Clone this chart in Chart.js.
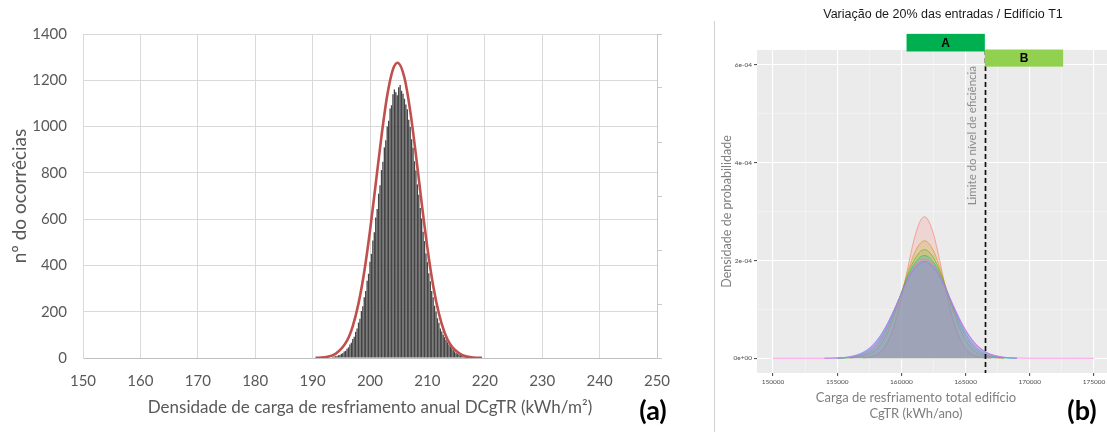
<!DOCTYPE html>
<html>
<head>
<meta charset="utf-8">
<script src="https://cdn.jsdelivr.net/npm/chart.js@4.4.0/dist/chart.umd.min.js"></script>
<style>
  html, body { margin: 0; padding: 0; background: #fff; width: 1107px; height: 432px; overflow: hidden; }
  #histo { position: absolute; left: 0; top: 0; }
  #dens { position: absolute; left: 714px; top: 0; }
</style>
</head>
<body>
<canvas id="histo" width="700" height="432"></canvas>
<canvas id="dens" width="396" height="432"></canvas>
<script>
// ---- panel (a): histogram of DCgTR ----
const histBins = [
  193.5, 193.75, 194, 194.25, 194.5, 194.75, 195, 195.25, 195.5, 195.75,
  196, 196.25, 196.5, 196.75, 197, 197.25, 197.5, 197.75, 198, 198.25,
  198.5, 198.75, 199, 199.25, 199.5, 199.75, 200, 200.25, 200.5, 200.75,
  201, 201.25, 201.5, 201.75, 202, 202.25, 202.5, 202.75, 203, 203.25,
  203.5, 203.75, 204, 204.25, 204.5, 204.75, 205, 205.25, 205.5, 205.75,
  206, 206.25, 206.5, 206.75, 207, 207.25, 207.5, 207.75, 208, 208.25,
  208.5, 208.75, 209, 209.25, 209.5, 209.75, 210, 210.25, 210.5, 210.75,
  211, 211.25, 211.5, 211.75, 212, 212.25, 212.5, 212.75, 213, 213.25,
  213.5, 213.75, 214, 214.25, 214.5, 214.75, 215, 215.25, 215.5, 215.75,
  216, 216.25, 216.5, 216.75, 217
];
const histCounts = [
  4, 6, 8, 9, 12, 13, 18, 21, 28, 31,
  40, 46, 58, 66, 82, 92, 113, 127, 153, 170,
  203, 224, 262, 289, 334, 364, 416, 450, 508, 543,
  607, 644, 710, 746, 812, 848, 910, 941, 1000, 1025,
  1078, 1092, 1140, 1160, 1148, 1135, 1170, 1180, 1155, 1142,
  1120, 1095, 1075, 1030, 998, 945, 908, 850, 810, 750,
  705, 648, 603, 546, 505, 452, 414, 366, 332, 290,
  262, 226, 201, 172, 152, 128, 114, 100, 90, 78,
  68, 58, 50, 42, 35, 28, 22, 18, 15, 12,
  9, 7, 5, 4, 3
];
// fitted normal curve (red)
const curveX = [190.5, 192, 194, 196, 197, 198, 199, 200, 201, 202, 203, 204, 204.8, 206, 207, 208, 209, 210, 211, 212, 213, 214, 216, 218, 219.5];
const curveY = [0.7, 3, 18, 75, 138, 236, 373, 550, 753, 958, 1134, 1247, 1276, 1211, 1069, 878, 670, 476, 313, 192, 109, 58, 13, 2, 0.5];

const histXTicks = [150, 160, 170, 180, 190, 200, 210, 220, 230, 240, 250];
const histYTicks = [0, 200, 400, 600, 800, 1000, 1200, 1400];
const histRightTicks = [0, 1, 2, 3, 4, 5, 6];

// ---- panel (b): density curves, 20% input variation ----
const densX = [150000, 154000, 155000, 156000, 157000, 157500, 158000, 158500, 159000, 159500,
  160000, 160500, 161000, 161500, 161800, 162000, 162500, 163000, 163500, 164000,
  164500, 165000, 165500, 166000, 166500, 167000, 168000, 169000, 170000, 175000];
// values in units of 1e-04
const densRed    = [null, null, null, null, 0.007, 0.023, 0.065, 0.166, 0.369, 0.721, 1.234, 1.854, 2.443, 2.823, 2.89, 2.86, 2.54, 1.98, 1.353, 0.811, 0.426, 0.197, 0.080, 0.028, 0.009, 0.002, null, null, null, null];
const densOrange = [null, null, null, 0.005, 0.037, 0.084, 0.175, 0.333, 0.578, 0.919, 1.333, 1.766, 2.137, 2.361, 2.40, 2.383, 2.196, 1.848, 1.421, 0.997, 0.639, 0.374, 0.200, 0.098, 0.044, 0.018, 0.002, null, null, null];
const densOlive  = [null, null, 0.002, 0.012, 0.063, 0.128, 0.239, 0.413, 0.662, 0.982, 1.346, 1.710, 2.011, 2.189, 2.22, 2.206, 2.058, 1.778, 1.421, 1.052, 0.721, 0.457, 0.268, 0.146, 0.073, 0.034, 0.006, null, null, null];
const densGreen  = [null, null, 0.003, 0.020, 0.086, 0.162, 0.284, 0.465, 0.709, 1.009, 1.340, 1.662, 1.922, 2.074, 2.10, 2.088, 1.962, 1.720, 1.408, 1.075, 0.765, 0.509, 0.316, 0.182, 0.098, 0.050, 0.010, 0.002, null, null];
const densBlue   = [null, 0.001, 0.007, 0.031, 0.116, 0.203, 0.334, 0.518, 0.754, 1.033, 1.328, 1.608, 1.830, 1.958, 1.98, 1.970, 1.864, 1.658, 1.387, 1.091, 0.807, 0.561, 0.367, 0.226, 0.130, 0.071, 0.017, 0.003, null, null];
const densPurple = [null, 0.002, 0.008, 0.034, 0.122, 0.209, 0.340, 0.522, 0.755, 1.030, 1.318, 1.593, 1.810, 1.937, 1.96, 1.951, 1.848, 1.648, 1.384, 1.095, 0.815, 0.572, 0.378, 0.236, 0.138, 0.077, 0.020, 0.004, null, null];
const densPink   = [0, 0.001, 0.005, 0.026, 0.102, 0.185, 0.315, 0.500, 0.740, 1.025, 1.330, 1.625, 1.865, 2.005, 2.03, 2.02, 1.905, 1.69, 1.41, 1.11, 0.83, 0.585, 0.39, 0.245, 0.145, 0.082, 0.023, 0.005, 0.001, 0];
const densSeries = [densRed, densOrange, densOlive, densGreen, densBlue, densPurple, densPink];
const densColors = ['#F8766D', '#C49A00', '#53B400', '#00C094', '#00B6EB', '#A58AFF', '#FB61D7'];

const densXTicks = [150000, 152500, 155000, 157500, 160000, 162500, 165000, 167500, 170000, 172500, 175000];
const densXText  = ['150000', '', '155000', '', '160000', '', '165000', '', '170000', '', '175000'];
const densYTicks = [0, 1, 2, 3, 4, 5, 6];
const densYText  = ['0e+00', '', '2e-04', '', '4e-04', '', '6e-04'];

// efficiency limit and class boxes (x in kWh/ano, y in 1e-04)
const limitX = 166500;
const limitLabel = 'Limite do nível de eficiência';
const limitLabelPos = [165550, 4.55];
const classNames = ['A', 'B'];
const classX0 = [160400, 166500];
const classX1 = [166500, 172600];
const classY0 = [6.27, 5.96];
const classY1 = [6.63, 6.31];
const classColors = ['#00B050', '#92D050'];

Chart.defaults.font.family = 'Lato, sans-serif';
Chart.defaults.animation = false;

function hexToRgba(hex, alpha) {
    const h = hex.replace('#', '');
    const r = parseInt(h.substring(0, 2), 16);
    const g = parseInt(h.substring(2, 4), 16);
    const b = parseInt(h.substring(4, 6), 16);
    return `rgba(${r}, ${g}, ${b}, ${alpha})`;
}

// ---------- chart (a) ----------
const histExtras = {
    id: 'histExtras',
    afterDraw(chart) {
        const ctx = chart.ctx;
        ctx.save();
        ctx.fillStyle = '#000';
        ctx.font = 'bold 27px Lato, sans-serif';
        ctx.textAlign = 'center';
        ctx.textBaseline = 'middle';
        ctx.fillText('(a)', 653, 411);
        ctx.restore();
    }
};

new Chart(document.getElementById('histo').getContext('2d'), {
    type: 'bar',
    data: {
        datasets: [
            {
                type: 'line',
                data: curveX.map((x, i) => ({ x: x, y: curveY[i] })),
                borderColor: '#C0504D',
                borderWidth: 2.6,
                pointRadius: 0,
                fill: false,
                cubicInterpolationMode: 'monotone',
                order: 0
            },
            {
                type: 'bar',
                data: histBins.map((x, i) => ({ x: x, y: histCounts[i] })),
                backgroundColor: '#444444',
                borderWidth: 0,
                barPercentage: 0.92,
                categoryPercentage: 1,
                order: 1
            }
        ]
    },
    options: {
        responsive: false,
        layout: { padding: { top: 34, left: 0, right: 0, bottom: 0 } },
        plugins: { legend: { display: false }, tooltip: { enabled: false } },
        scales: {
            x: {
                type: 'linear',
                min: 150,
                max: 250,
                offset: false,
                afterBuildTicks: s => { s.ticks = histXTicks.map(v => ({ value: v })); },
                afterFit: s => { s.height = 74; },
                ticks: { color: '#595959', font: { size: 15 }, padding: 14, callback: v => String(v) },
                grid: { color: '#d9d9d9', drawTicks: false, offset: false },
                border: { color: '#bfbfbf', width: 1 },
                title: {
                    display: true,
                    text: 'Densidade de carga de resfriamento anual DCgTR (kWh/m²)',
                    color: '#595959',
                    font: { size: 17 },
                    padding: { top: 0, bottom: 14 }
                }
            },
            y: {
                min: 0,
                max: 1400,
                afterBuildTicks: s => { s.ticks = histYTicks.map(v => ({ value: v })); },
                afterFit: s => { s.width = 83; },
                ticks: { color: '#595959', font: { size: 15 }, padding: 16, callback: v => String(v) },
                grid: { color: '#d9d9d9', drawTicks: false },
                border: { color: '#d9d9d9' },
                title: {
                    display: true,
                    text: 'nº do ocorrêcias',
                    color: '#595959',
                    font: { size: 19 },
                    padding: { top: 8, bottom: 0 }
                }
            },
            y2: {
                position: 'right',
                min: 0,
                max: 6,
                afterBuildTicks: s => { s.ticks = histRightTicks.map(v => ({ value: v })); },
                afterFit: s => { s.width = 43; },
                ticks: { display: false },
                grid: { drawOnChartArea: false, drawTicks: true, tickLength: 5, tickColor: '#c8c8c8' },
                border: { color: '#c8c8c8' }
            }
        }
    },
    plugins: [histExtras]
});

// ---------- chart (b) ----------
const densExtras = {
    id: 'densExtras',
    beforeDraw(chart) {
        const { ctx, chartArea: a } = chart;
        ctx.save();
        ctx.fillStyle = '#EBEBEB';
        ctx.fillRect(a.left, a.top, a.right - a.left, a.bottom - a.top);
        ctx.restore();
    },
    afterDatasetsDraw(chart) {
        const { ctx, chartArea: a, scales: { x, y } } = chart;
        ctx.save();
        // efficiency limit line
        const lx = Math.round(x.getPixelForValue(limitX)) + 0.5;
        ctx.strokeStyle = '#111';
        ctx.lineWidth = 1.7;
        ctx.setLineDash([5, 3]);
        ctx.beginPath();
        ctx.moveTo(lx, a.top);
        ctx.lineTo(lx, a.bottom);
        ctx.stroke();
        ctx.setLineDash([]);
        // its label
        ctx.translate(x.getPixelForValue(limitLabelPos[0]), y.getPixelForValue(limitLabelPos[1]));
        ctx.rotate(-Math.PI / 2);
        ctx.fillStyle = '#8c8c8c';
        ctx.font = '11.5px Lato, sans-serif';
        ctx.textAlign = 'center';
        ctx.textBaseline = 'middle';
        ctx.fillText(limitLabel, 0, 0);
        ctx.restore();
    },
    afterDraw(chart) {
        const { ctx, scales: { x, y } } = chart;
        ctx.save();
        // class boxes A / B
        classNames.forEach((name, i) => {
            const x0 = x.getPixelForValue(classX0[i]);
            const x1 = x.getPixelForValue(classX1[i]);
            const y0 = y.getPixelForValue(classY1[i]);
            const y1 = y.getPixelForValue(classY0[i]);
            ctx.fillStyle = classColors[i];
            ctx.fillRect(x0, y0, x1 - x0, y1 - y0);
            ctx.fillStyle = '#000';
            ctx.font = 'bold 12px "Liberation Sans", Arial, sans-serif';
            ctx.textAlign = 'center';
            ctx.textBaseline = 'middle';
            ctx.fillText(name, (x0 + x1) / 2, (y0 + y1) / 2 + 1);
        });
        // title
        ctx.fillStyle = '#1a1a1a';
        ctx.font = '12.5px "Liberation Sans", Arial, sans-serif';
        ctx.textAlign = 'center';
        ctx.textBaseline = 'middle';
        ctx.fillText('Variação de 20% das entradas / Edifício T1', 229, 15);
        // x axis title (two lines)
        ctx.fillStyle = '#7f7f7f';
        ctx.font = '13px Lato, sans-serif';
        ctx.fillText('Carga de resfriamento total edifício', 202, 398);
        ctx.fillText('CgTR (kWh/ano)', 202, 414);
        // panel tag
        ctx.fillStyle = '#000';
        ctx.font = 'bold 27px Lato, sans-serif';
        ctx.fillText('(b)', 368, 411);
        // separator on the left
        ctx.strokeStyle = '#d0d0d0';
        ctx.lineWidth = 1;
        ctx.beginPath();
        ctx.moveTo(0.5, 21);
        ctx.lineTo(0.5, 432);
        ctx.stroke();
        ctx.restore();
    }
};

new Chart(document.getElementById('dens').getContext('2d'), {
    type: 'line',
    data: {
        // first series drawn first (bottom), last one on top
        datasets: densSeries.map((vals, k) => ({
            data: densX.map((x, i) => ({ x: x, y: vals[i] })),
            borderColor: hexToRgba(densColors[k], 0.6),
            backgroundColor: hexToRgba(densColors[k], 0.2),
            borderWidth: 1,
            pointRadius: 0,
            fill: 'origin',
            cubicInterpolationMode: 'monotone',
            order: densSeries.length - k
        }))
    },
    options: {
        responsive: false,
        layout: { padding: { top: 50, left: 0, right: 0, bottom: 0 } },
        plugins: { legend: { display: false }, tooltip: { enabled: false } },
        scales: {
            x: {
                type: 'linear',
                min: 148750,
                max: 176250,
                afterBuildTicks: s => { s.ticks = densXTicks.map(v => ({ value: v })); },
                afterFit: s => { s.height = 59; },
                ticks: {
                    color: '#4d4d4d',
                    font: { size: 6.5 },
                    padding: 2,
                    maxRotation: 0,
                    autoSkip: false,
                    callback: (v, i) => densXText[i]
                },
                grid: {
                    color: ctx => densXText[ctx.index] ? '#ffffff' : 'rgba(255,255,255,0.6)',
                    lineWidth: ctx => densXText[ctx.index] ? 1.1 : 0.6,
                    tickLength: 3,
                    tickColor: ctx => densXText[ctx.index] ? '#555' : 'rgba(0,0,0,0)'
                },
                border: { display: false }
            },
            y: {
                min: -0.3,
                max: 6.3,
                afterBuildTicks: s => { s.ticks = densYTicks.map(v => ({ value: v })); },
                afterFit: s => { s.width = 43; },
                ticks: {
                    color: '#4d4d4d',
                    font: { size: 6.5 },
                    padding: 2,
                    autoSkip: false,
                    callback: (v, i) => densYText[i]
                },
                grid: {
                    color: ctx => densYText[ctx.index] ? '#ffffff' : 'rgba(255,255,255,0.6)',
                    lineWidth: ctx => densYText[ctx.index] ? 1.1 : 0.6,
                    tickLength: 3,
                    tickColor: ctx => densYText[ctx.index] ? '#555' : 'rgba(0,0,0,0)'
                },
                border: { display: false },
                title: {
                    display: true,
                    text: 'Densidade de probabilidade',
                    color: '#7f7f7f',
                    font: { size: 12.5 },
                    padding: { top: 5, bottom: 0 }
                }
            }
        }
    },
    plugins: [densExtras]
});
</script>
</body>
</html>
